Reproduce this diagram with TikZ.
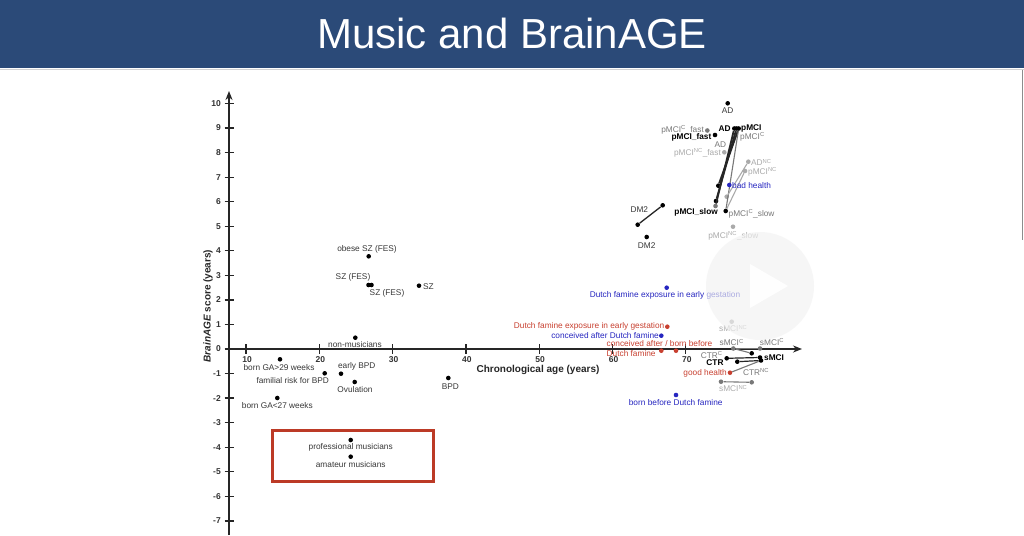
\documentclass[tikz,border=0pt]{standalone}
\usepackage{fontspec}
\setmainfont{Liberation Sans}
\usetikzlibrary{arrows.meta}
\definecolor{titlebg}{RGB}{43,74,120}
\definecolor{dred}{RGB}{200,64,48}
\definecolor{dblue}{RGB}{38,38,192}
\definecolor{boxred}{RGB}{188,58,38}
\definecolor{txt}{RGB}{55,55,55}
\definecolor{gC}{RGB}{120,120,120}
\definecolor{gNC}{RGB}{170,170,170}
\begin{document}
\begin{tikzpicture}[x=1pt,y=-1pt,
  dot/.style={circle,fill=#1,inner sep=0pt,minimum size=4.6pt},
  dot/.default=black,
  lbl/.style={font=\fontsize{8.3}{10}\selectfont,text=txt,inner sep=0pt},
  blbl/.style={lbl,text=black,font=\fontsize{8.3}{10}\selectfont\bfseries},
  tick/.style={font=\fontsize{8.5}{10}\selectfont\bfseries,text=black!80,inner sep=0pt},
  axis/.style={line width=1.8pt,black!85,-{Stealth[length=9pt,width=7pt]}},
  conn/.style={line width=1.8pt,black!85},
  gconn/.style={line width=1.1pt,gC},
  lconn/.style={line width=1.1pt,gNC}]
\useasboundingbox (0,0) rectangle (1024,535);
\fill[white] (0,0) rectangle (1024,535);
% title bar
\fill[titlebg] (0,0) rectangle (1024,68);
\draw[gray!35,line width=1pt] (0,69) -- (1024,69);
\node[text=white,font=\fontsize{42}{44}\selectfont] (title) at (512,33) {Music and BrainAGE};
\draw[black!45,line width=0.8pt] (1022.5,70) -- (1022.5,240);

% axes
\coordinate (ybot) at (229,535);
\coordinate (ytop) at (229,91);
\coordinate (xl) at (229,349);
\coordinate (xr) at (802,349);
\draw[axis] (ybot) -- (ytop);
\draw[axis] (xl) -- (xr);
\foreach \v in {-7,...,10}{
  \draw[line width=1.3pt,black!85] (224.5,{349-24.55*\v}) -- (233.5,{349-24.55*\v});
  \node[tick,anchor=east] at (221,{349-24.55*\v}) {\v};
}
\foreach \a in {10,20,...,70}{
  \draw[line width=1.3pt,black!85] ({172.7+7.33*\a},344) -- ({172.7+7.33*\a},354);
  \node[tick] at ({172.7+7.33*\a+1},360) {\a};
}
\node[rotate=90,font=\fontsize{10}{12}\selectfont\bfseries,text=black!85] (ylab) at (208,306) {\textit{BrainAGE} score (years)};
\node[font=\fontsize{10}{12}\selectfont\bfseries,text=black!85] (xlab) at (538,369.5) {Chronological age (years)};

% left cluster
\node[dot] (osz) at (368.7,256.3) {};
\node[lbl] at (367,249) {obese SZ (FES)};
\node[dot] (sz1) at (368.5,285) {};
\node[dot] (sz2) at (371.5,285) {};
\node[lbl] at (353,277.5) {SZ (FES)};
\node[lbl] at (387,293) {SZ (FES)};
\node[dot] (sz) at (419,285.7) {};
\node[lbl,anchor=west] at (423,286.5) {SZ};
\node[dot] (nm) at (355.3,337.7) {};
\node[lbl] at (355,344.5) {non-musicians};
\node[dot] (bga29) at (280,359.3) {};
\node[lbl] at (279,367.7) {born GA>29 weeks};
\node[dot] (ebpd) at (341,373.7) {};
\node[lbl] at (356.7,366) {early BPD};
\node[dot] (frbpd) at (324.7,373.3) {};
\node[lbl] at (292.7,381) {familial risk for BPD};
\node[dot] (ov) at (354.7,382) {};
\node[lbl] at (355,389.3) {Ovulation};
\node[dot] (bpd) at (448.3,378) {};
\node[lbl] at (450.3,386.3) {BPD};
\node[dot] (bga27) at (277.3,398) {};
\node[lbl] at (277.3,405.7) {born GA<27 weeks};

% musicians box
\node[draw=boxred,line width=3pt,minimum width=161pt,minimum height=51pt,inner sep=0pt] (box) at (352.7,456.3) {};
\node[dot] (prof) at (350.7,440) {};
\node[lbl] at (350.7,447.3) {professional musicians};
\node[dot] (am) at (350.7,456.7) {};
\node[lbl] at (350.7,464.3) {amateur musicians};

% DM2
\node[dot] (dm2a) at (662.7,205.3) {};
\node[dot] (dm2b) at (637.7,224.7) {};
\draw[conn,line width=1.3pt] (dm2a) -- (dm2b);
\node[lbl] at (639.3,209.3) {DM2};
\node[dot] (dm2c) at (646.7,237) {};
\node[lbl] at (646.7,245.5) {DM2};

% upper cluster
\node[dot] (adtop) at (727.7,103.3) {};
\node[lbl] at (727.7,110.7) {AD};
\node[dot=gC] (pcf) at (707.3,130.5) {};
\node[lbl,text=gC,anchor=east] at (704,130) {pMCI\textsuperscript{C}\_fast};
\node[dot] (pf) at (715,135) {};
\node[blbl,anchor=east] at (711.5,137.5) {pMCI\_fast};
\node[blbl] at (724.5,129) {AD};
\node[dot] (ad1) at (734.3,128.5) {};
\node[dot] (ad2) at (736.5,128.5) {};
\node[dot] (ad3) at (738.7,128.5) {};
\node[blbl,anchor=west] at (741,128.5) {pMCI};
\node[lbl,text=gC,anchor=west] at (740,137) {pMCI\textsuperscript{C}};
\node[lbl,text=gC] at (720.3,144.5) {AD};
\node[dot=gNC] (pncf) at (724.3,152.3) {};
\node[lbl,text=gNC,anchor=east] at (721,152.7) {pMCI\textsuperscript{NC}\_fast};
\node[dot=gNC] (adnc) at (748.3,161.7) {};
\node[lbl,text=gNC,anchor=west] at (751,162.5) {AD\textsuperscript{NC}};
\node[dot=gNC] (pnc) at (745,171) {};
\node[lbl,text=gNC,anchor=west] at (748,172) {pMCI\textsuperscript{NC}};
\node[dot] (s1) at (718.3,185.7) {};
\node[dot] (s2) at (716,201) {};
\node[dot=gC] (s3) at (715.5,206) {};
\node[dot=gNC] (adncs) at (726.7,196.7) {};
\node[dot] (pcs) at (725.7,211) {};
\draw[conn] (ad1) -- (s3);
\draw[conn] (ad2) -- (s2);
\draw[conn] (ad3) -- (s1);
\draw[gconn] (ad3) -- (pcs);
\draw[lconn] (adnc) -- (adncs);
\draw[lconn] (pnc) -- (pcs);
\node[dot=dblue] (bh) at (729.3,185) {};
\node[lbl,text=dblue,anchor=west] at (732,185.8) {bad health};
\node[blbl,anchor=east] at (718,212.5) {pMCI\_slow};
\node[lbl,text=gC,anchor=west] at (728.5,213.5) {pMCI\textsuperscript{C}\_slow};
\node[dot=gNC] (pncs) at (733,226.7) {};
\node[lbl,text=gNC] at (733.3,236) {pMCI\textsuperscript{NC}\_slow};

% Dutch famine etc.
\node[dot=dblue] (dfe) at (666.7,287.7) {};
\node[lbl,text=dblue] at (665,295) {Dutch famine exposure in early gestation};
\node[dot=dred] (dfer) at (667.3,326.7) {};
\node[lbl,text=dred,anchor=east] at (664.5,326.2) {Dutch famine exposure in early gestation};
\node[dot=dblue] (caf) at (661.3,335.7) {};
\node[lbl,text=dblue,anchor=east] at (659,335.6) {conceived after Dutch famine};
\node[dot=dred] (cab1) at (661.3,350.7) {};
\node[dot=dred] (cab2) at (676,350.7) {};
\node[lbl,text=dred,anchor=north west,align=left] at (606.5,340.3) {conceived after / born before\\Dutch famine};
\node[dot=dblue] (bbf) at (676,395) {};
\node[lbl,text=dblue] at (675.7,402.7) {born before Dutch famine};

% lower right cluster
\node[dot=gNC] (sncT) at (731.7,321.7) {};
\node[lbl,text=gNC] at (733.3,328.5) {sMCI\textsuperscript{NC}};
\node[dot=gC] (scl) at (733.3,348.5) {};
\node[lbl,text=gC] at (731.7,342.5) {sMCI\textsuperscript{C}};
\node[dot=gC] (scr) at (760,348.5) {};
\node[lbl,text=gC] at (772,342) {sMCI\textsuperscript{C}};
\node[lbl,text=gC] at (711.7,355) {CTR\textsuperscript{C}};
\node[blbl] at (715,362.7) {CTR};
\node[dot] (c1) at (726.7,358.3) {};
\node[dot] (c2) at (737.3,361.7) {};
\node[dot] (c3) at (751.7,353.3) {};
\node[dot] (c4) at (760,357.5) {};
\node[dot] (c5) at (761,360.5) {};
\node[blbl,anchor=west] at (764,358) {sMCI};
\draw[gconn] (scl) -- (scr);
\draw[gconn] (scl) -- (c3);
\draw[conn,line width=1.2pt] (c1) -- (c4);
\draw[conn,line width=1.2pt] (c2) -- (c5);
\node[dot=dred] (gh) at (730,372.7) {};
\node[lbl,text=dred,anchor=east] at (727,373) {good health};
\draw[gconn] (gh) -- (c5);
\node[lbl,text=gC] at (756,372) {CTR\textsuperscript{NC}};
\node[dot=gC] (snc1) at (721,381.7) {};
\node[dot=gC] (snc2) at (751.7,382.3) {};
\draw[gconn] (snc1) -- (snc2);
\node[lbl,text=gNC] at (733.3,388.5) {sMCI\textsuperscript{NC}};

% video overlay
\fill[white!95!black,opacity=0.65] (760,286) circle (54);
\fill[white,opacity=0.9] (750,264) -- (750,308) -- (788,286) -- cycle;
\end{tikzpicture}
\end{document}
